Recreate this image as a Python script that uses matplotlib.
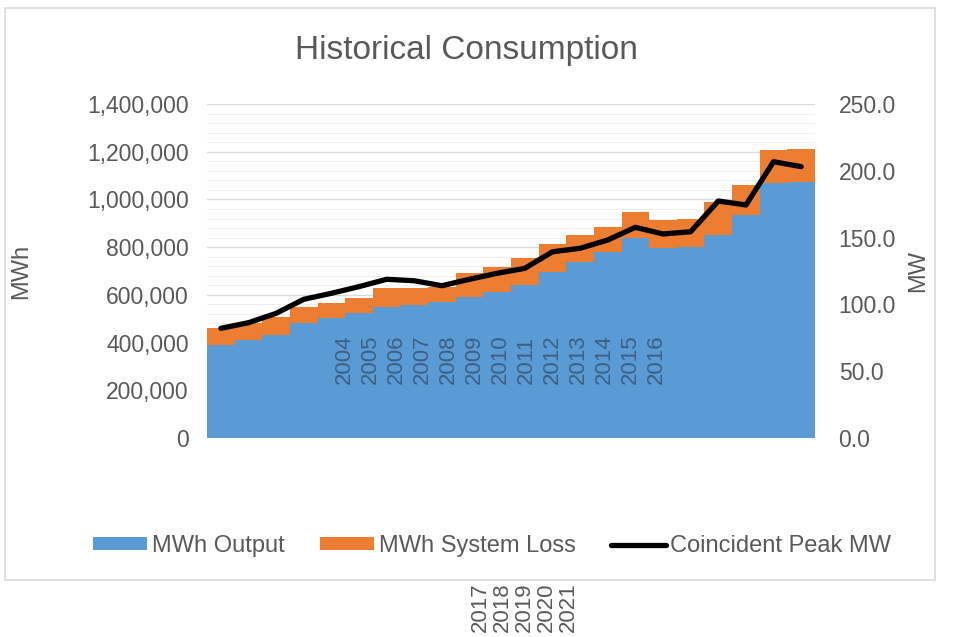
import matplotlib
matplotlib.use("Agg")
import matplotlib.pyplot as plt
from matplotlib.patches import Rectangle
from matplotlib.ticker import FuncFormatter, MultipleLocator

plt.rcParams['font.family'] = ['Liberation Sans', 'DejaVu Sans']

years = list(range(2000, 2022))
mwh_output = [390000, 411000, 432000, 482000, 503000, 524000, 550000, 557000, 571000, 592000,
              612000, 642000, 697000, 739000, 781000, 837000, 795000, 802000, 851000, 935000,
              1067000, 1074000]
mwh_total = [461000, 483000, 508000, 550000, 567000, 587000, 629000, 629000, 634000, 692000,
             718000, 753000, 813000, 851000, 886000, 948000, 914000, 917000, 990000, 1060000,
             1207000, 1210000]
mwh_loss = [t - o for t, o in zip(mwh_total, mwh_output)]
peak_mw = [82.1, 86.3, 93.3, 103.8, 108.3, 113.3, 118.8, 117.7, 114.0, 118.8, 123.3, 127.0,
           139.4, 142.0, 148.2, 157.7, 152.7, 154.4, 177.4, 174.4, 206.8, 203.1]
inner_labels = [str(y) for y in range(2004, 2017)]
outer_labels = [str(y) for y in range(2017, 2022)]

W, H = 955, 637
fig = plt.figure(figsize=(W / 100, H / 100), dpi=100)
fig.patch.set_facecolor('white')

# chart frame
fig.patches.append(Rectangle((5 / W, 1 - 580 / H), 930 / W, 572 / H, transform=fig.transFigure,
                             fill=False, edgecolor='#d9d9d9', linewidth=1.2))

ax = fig.add_axes([207 / W, 1 - 438 / H, 608 / W, 334 / H])
x = list(range(len(years)))
gray = '#595959'

ax.bar(x, mwh_output, width=1.0, color='#5B9BD5', label='MWh Output', zorder=2)
ax.bar(x, mwh_loss, width=1.0, bottom=mwh_output, color='#ED7D31', label='MWh System Loss', zorder=2)
ax.set_xlim(-0.5, len(years) - 0.5)
ax.set_ylim(0, 1400000)
ax.yaxis.set_major_locator(MultipleLocator(200000))
ax.yaxis.set_minor_locator(MultipleLocator(40000))
ax.yaxis.set_major_formatter(FuncFormatter(lambda v, p: f"{int(v):,}"))
ax.grid(axis='y', which='major', color='#d9d9d9', linewidth=1.0, zorder=0)
ax.grid(axis='y', which='minor', color='#efefef', linewidth=0.8, zorder=0)
ax.set_axisbelow(True)
ax.set_xticks([])
for s in ax.spines.values():
    s.set_visible(False)
ax.tick_params(axis='y', which='both', length=0, labelsize=16.5, labelcolor=gray, pad=13)
ax.set_ylabel('MWh', fontsize=17, color=gray, labelpad=40)

ax2 = ax.twinx()
ax2.plot(x, peak_mw, color='black', linewidth=3.8, label='Coincident Peak MW', zorder=3,
         solid_capstyle='round', solid_joinstyle='round')
ax2.set_ylim(0, 250)
ax2.yaxis.set_major_locator(MultipleLocator(50))
ax2.yaxis.set_major_formatter(FuncFormatter(lambda v, p: f"{v:.1f}"))
for s in ax2.spines.values():
    s.set_visible(False)
ax2.tick_params(axis='y', length=0, labelsize=16.5, labelcolor=gray, pad=17)
ax2.set_ylabel('MW', fontsize=17, color=gray, labelpad=8)

fig.text(466 / W, 1 - 50 / H, 'Historical Consumption', fontsize=24, color=gray,
         ha='center', va='center')

# stray year labels
for k, lab in enumerate(inner_labels):
    fig.text((344 + 26 * k) / W, 1 - 384 / H, lab, rotation=90, fontsize=16,
             color='#3d5f82', ha='center', va='bottom', zorder=5)
for k, lab in enumerate(outer_labels):
    fig.text((480 + 22 * k) / W, 1 - 632 / H, lab, rotation=90, fontsize=16,
             color=gray, ha='center', va='bottom')

h1, l1 = ax.get_legend_handles_labels()
h2, l2 = ax2.get_legend_handles_labels()
fig.legend(h1 + h2, l1 + l2, loc='center', bbox_to_anchor=(492 / W, 1 - 546 / H), ncol=3,
           frameon=False, fontsize=17, labelcolor=gray, handlelength=2.3, handleheight=0.45,
           columnspacing=1.5, handletextpad=0.2)

fig.savefig('out.png', dpi=100, facecolor='white')
